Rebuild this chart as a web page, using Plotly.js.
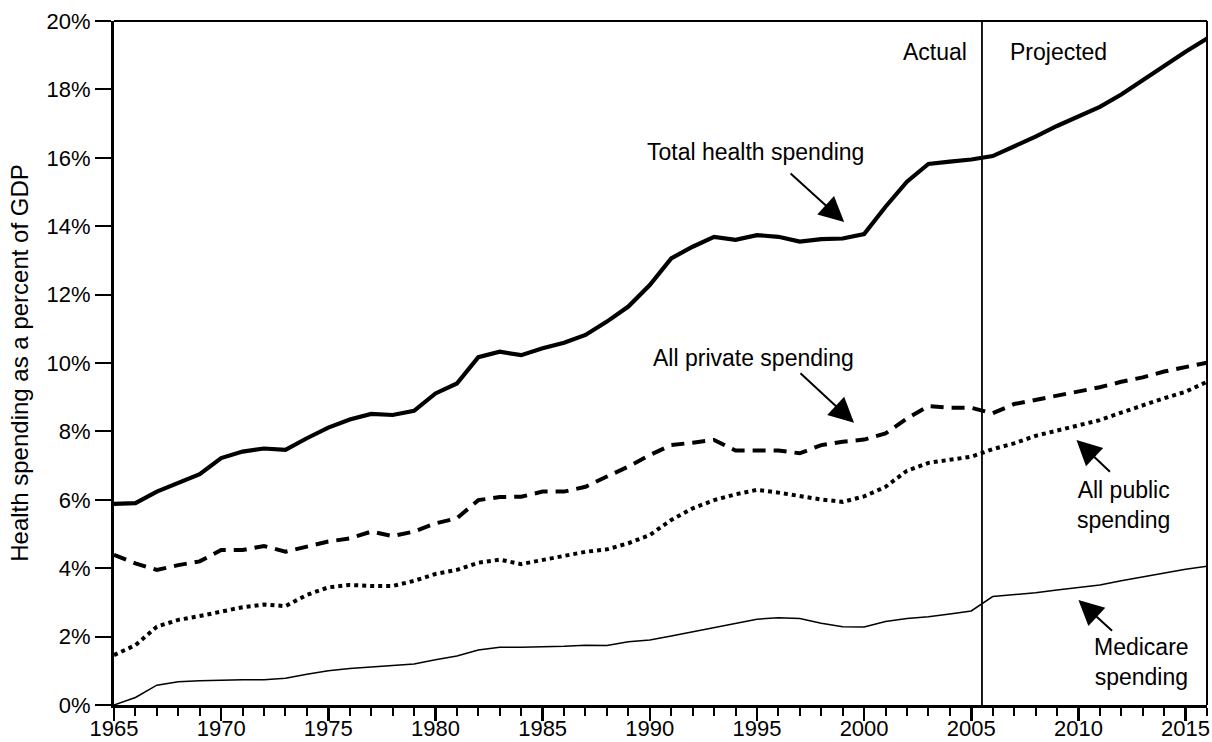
<!DOCTYPE html>
<html>
<head>
<meta charset="utf-8">
<script src="https://cdn.plot.ly/plotly-3.0.1.min.js"></script>
<style>html,body{margin:0;padding:0;background:#fff;}#chart{width:1212px;height:742px;}</style>
</head>
<body>
<div id="chart"></div>
<script>
const years = [1965,1966,1967,1968,1969,1970,1971,1972,1973,1974,
  1975,1976,1977,1978,1979,1980,1981,1982,1983,1984,
  1985,1986,1987,1988,1989,1990,1991,1992,1993,1994,
  1995,1996,1997,1998,1999,2000,2001,2002,2003,2004,
  2005,2006,2007,2008,2009,2010,2011,2012,2013,2014,
  2015,2016];

const totalSpending = [5.88,5.90,6.24,6.49,6.75,7.22,7.41,7.50,7.46,7.80,
  8.11,8.35,8.51,8.48,8.60,9.11,9.40,10.17,10.33,10.23,
  10.43,10.59,10.82,11.21,11.65,12.28,13.06,13.40,13.69,13.60,
  13.74,13.69,13.55,13.62,13.64,13.77,14.57,15.30,15.82,15.89,
  15.95,16.05,16.32,16.62,16.93,17.20,17.49,17.85,18.27,18.71,
  19.10,19.49];

const privateSpending = [4.39,4.14,3.95,4.09,4.20,4.53,4.53,4.65,4.48,4.63,
  4.78,4.87,5.07,4.94,5.07,5.31,5.46,5.99,6.08,6.09,
  6.24,6.24,6.38,6.68,6.97,7.31,7.60,7.67,7.75,7.44,
  7.44,7.44,7.36,7.60,7.70,7.76,7.94,8.38,8.74,8.69,
  8.69,8.53,8.80,8.92,9.04,9.16,9.29,9.45,9.58,9.75,
  9.87,10.01];

const publicSpending = [1.46,1.75,2.29,2.49,2.60,2.73,2.86,2.94,2.89,3.22,
  3.44,3.51,3.48,3.48,3.63,3.83,3.95,4.16,4.25,4.12,
  4.24,4.36,4.48,4.55,4.73,4.97,5.41,5.75,5.99,6.16,
  6.29,6.21,6.11,6.01,5.94,6.10,6.38,6.85,7.08,7.16,
  7.26,7.48,7.65,7.87,8.02,8.17,8.33,8.55,8.77,8.97,
  9.16,9.45];

const medicareSpending = [0.00,0.22,0.58,0.68,0.71,0.73,0.74,0.74,0.78,0.90,
  1.00,1.07,1.12,1.15,1.20,1.32,1.43,1.61,1.69,1.69,
  1.70,1.72,1.75,1.74,1.85,1.90,2.02,2.14,2.27,2.39,
  2.51,2.55,2.53,2.39,2.29,2.28,2.44,2.53,2.58,2.66,
  2.75,3.17,3.22,3.28,3.36,3.44,3.51,3.63,3.75,3.87,
  3.97,4.06];

const xTickVals = [1965,1970,1975,1980,1985,1990,1995,2000,2005,2010,2015];
const yTickVals = [0,2,4,6,8,10,12,14,16,18,20];
const yTickText = ['0%','2%','4%','6%','8%','10%','12%','14%','16%','18%','20%'];
const splitYear = 2005.5;

const FONT = 'Liberation Sans, Arial, Helvetica, sans-serif';

const traces = [
  {x: years, y: totalSpending, type: 'scatter', mode: 'lines', name: 'Total health spending',
   line: {color: '#000', width: 4.2}},
  {x: years, y: privateSpending, type: 'scatter', mode: 'lines', name: 'All private spending',
   line: {color: '#000', width: 4, dash: '13px,8px'}},
  {x: years, y: publicSpending, type: 'scatter', mode: 'lines', name: 'All public spending',
   line: {color: '#000', width: 4, dash: '4px,4px'}},
  {x: years, y: medicareSpending, type: 'scatter', mode: 'lines', name: 'Medicare spending',
   line: {color: '#000', width: 1.5}}
];

function arrow(tailX, tailY, tipX, tipY) {
  return {x: tipX, y: tipY, ax: tailX, ay: tailY, xref: 'x', yref: 'y', axref: 'x', ayref: 'y',
    text: '', showarrow: true, arrowhead: 2, arrowsize: 2.5, arrowwidth: 2, arrowcolor: '#000'};
}
function label(x, y, txt) {
  return {x: x, y: y, xref: 'x', yref: 'y', text: txt, showarrow: false,
    xanchor: 'center', yanchor: 'middle', font: {family: FONT, size: 23, color: '#000'}};
}

const layout = {
  width: 1212, height: 742,
  margin: {l: 114, r: 5, t: 21, b: 37, pad: 0},
  paper_bgcolor: '#fff', plot_bgcolor: '#fff',
  showlegend: false,
  font: {family: FONT, color: '#000'},
  xaxis: {
    range: [1965, 2016], tickvals: xTickVals, ticks: 'outside', ticklen: 13, tickwidth: 2.5,
    tickcolor: '#000', showline: true, linecolor: '#000', linewidth: 3, showgrid: false, zeroline: false,
    tickfont: {family: FONT, size: 22, color: '#000'}, ticklabelstandoff: -11,
    minor: {dtick: 1, tick0: 1965, ticks: 'outside', ticklen: 8, tickwidth: 2, tickcolor: '#000', showgrid: false}
  },
  yaxis: {
    range: [0, 20], tickvals: yTickVals, ticktext: yTickText, ticks: 'outside', ticklen: 16, tickwidth: 2,
    tickcolor: '#000', showline: true, linecolor: '#000', linewidth: 3, showgrid: false, zeroline: false,
    tickfont: {family: FONT, size: 22, color: '#000'},
    title: {text: 'Health spending as a percent of GDP', font: {family: FONT, size: 24, color: '#000'}, standoff: 12}
  },
  shapes: [
    {type: 'line', xref: 'paper', yref: 'paper', x0: 0, x1: 1, y0: 1, y1: 1, line: {color: '#000', width: 2}},
    {type: 'line', xref: 'paper', yref: 'paper', x0: 1, x1: 1, y0: 0, y1: 1, line: {color: '#000', width: 2}},
    {type: 'line', xref: 'x', yref: 'paper', x0: splitYear, x1: splitYear, y0: 0, y1: 1, line: {color: '#000', width: 1.8}}
  ],
  annotations: [
    label(1994.95, 16.17, 'Total health spending'),
    arrow(1996.5, 15.58, 1999.07, 14.12),
    label(1994.84, 10.15, 'All private spending'),
    arrow(1996.96, 9.74, 1999.53, 8.25),
    label(2012.1, 5.85, 'All public<br>spending'),
    arrow(2011.54, 6.78, 2009.91, 7.75),
    label(2012.94, 1.26, 'Medicare<br>spending'),
    arrow(2011.64, 2.13, 2010.0, 3.07),
    label(2003.3, 19.1, 'Actual'),
    label(2009.09, 19.1, 'Projected')
  ]
};

Plotly.newPlot('chart', traces, layout, {displayModeBar: false, staticPlot: true});
</script>
</body>
</html>
